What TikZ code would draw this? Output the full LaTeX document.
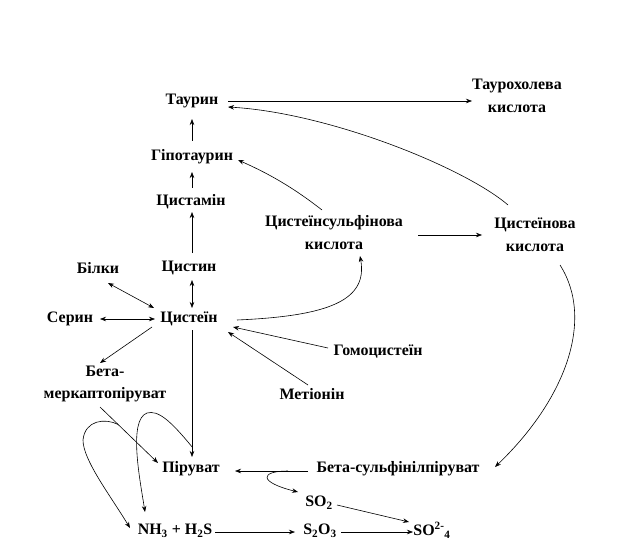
\documentclass[tikz,border=0pt]{standalone}
\usepackage{fontspec}
\setmainfont{Liberation Serif}
\usetikzlibrary{arrows.meta,calc}
\begin{document}
\begin{tikzpicture}[x=1bp,y=-1bp,
  lbl/.style={font=\fontsize{16}{23}\selectfont\bfseries, inner sep=0pt, align=center},
  con/.style={line width=0.6bp,-{Stealth[length=6bp,width=4.5bp]}},
  dcon/.style={line width=0.6bp,{Stealth[length=6bp,width=4.5bp]}-{Stealth[length=6bp,width=4.5bp]}},
  ln/.style={line width=0.6bp}]
\useasboundingbox (0,0) rectangle (636,548);
\fill[white] (0,0) rectangle (636,548);
% nodes
\node[lbl] (taur) at (192,101) {Таурин};
\node[lbl] (tchol) at (517,96) {Таурохолева\\кислота};
\node[lbl] (hypo) at (192,157) {Гіпотаурин};
\node[lbl] (cystam) at (191,202) {Цистамін};
\node[lbl] (csa) at (334,233) {Цистеїнсульфінова\\кислота};
\node[lbl] (ca) at (535,235) {Цистеїнова\\кислота};
\node[lbl] (bilky) at (98,268) {Білки};
\node[lbl] (cystin) at (189,268) {Цистин};
\node[lbl] (serin) at (70,319) {Серин};
\node[lbl] (cys) at (189,319) {Цистеїн};
\node[lbl] (homo) at (378,352) {Гомоцистеїн};
\node[lbl] (bmp) at (105,384) {Бета-\\меркаптопіруват};
\node[lbl] (met) at (312,394) {Метіонін};
\node[lbl] (pyr) at (191,469) {Піруват};
\node[lbl] (bsp) at (398,469) {Бета-сульфінілпіруват};
\node[lbl] (so2) at (319,503) {SO\textsubscript{2}};
\node[lbl] (nh3) at (175,531) {NH\textsubscript{3} + H\textsubscript{2}S};
\node[lbl] (s2o3) at (320,531) {S\textsubscript{2}O\textsubscript{3}};
\node[lbl] (so4) at (432,530) {SO\textsuperscript{2-}\textsubscript{4}};
% connectors
\draw[con] ($(taur)+(36,0)$) -- ($(tchol)+(-45,5)$);
\draw[con] ($(ca)+(-27,-30)$) .. controls (465,168) and (330,113) .. ($(taur)+(36,6)$);
\draw[con] ($(csa)+(-12,-23)$) .. controls (290,185) and (265,172) .. ($(hypo)+(46,3)$);
\draw[con] ($(hypo)+(0,-16)$) -- ($(taur)+(0,18)$);
\draw[con] ($(cystam)+(1,-14)$) -- ($(hypo)+(0,15)$);
\draw[con] ($(cystin)+(3,-15)$) -- ($(cystam)+(1,10)$);
\draw[dcon] ($(cystin)+(3,12)$) -- ($(cys)+(3,-11)$);
\draw[dcon] ($(bilky)+(10,15)$) -- ($(cys)+(-35,-11)$);
\draw[dcon] ($(serin)+(30,0)$) -- ($(cys)+(-34,0)$);
\draw[con] ($(cys)+(-37,8)$) -- ($(bmp)+(-5,-21)$);
\draw[con] ($(cys)+(3,11)$) -- coordinate[pos=0.92] (l2) ($(pyr)+(1,-12)$);
\draw[con] ($(homo)+(-50,-4)$) -- ($(cys)+(44,8)$);
\draw[con] ($(met)+(-4,-9)$) -- ($(cys)+(39,13)$);
\draw[con] ($(cys)+(48,1)$) .. controls (330,316) and (368,300) .. ($(csa)+(26,23)$);
\draw[con] ($(csa)+(84,2)$) -- ($(ca)+(-53,0)$);
\draw[con] ($(ca)+(25,30)$) .. controls (595,320) and (565,400) .. ($(bsp)+(97,-2)$);
\draw[con] ($(bsp)+(-90,2)$) -- coordinate[pos=0.274] (br) ($(pyr)+(44,2)$);
\draw[con] (br) .. controls (260,471) and (258,482) .. ($(so2)+(-21,-11)$);
\draw[con] ($(so2)+(18,2)$) -- ($(so4)+(-23,-8)$);
\draw[con] ($(nh3)+(40,1)$) -- ($(s2o3)+(-25,1)$);
\draw[con] ($(s2o3)+(21,1)$) -- ($(so4)+(-19,2)$);
\draw[con] ($(bmp)+(-5,23)$) -- coordinate[pos=0.31] (l1) ($(pyr)+(-33,-6)$);
\draw[con] (l1) .. controls (105,418) and (85,420) .. (83,440) .. controls (83,460) and (110,495) .. ($(nh3)+(-45,-3)$);
\draw[con] (l2) .. controls (170,420) and (158,410) .. (147,413) .. controls (128,420) and (140,480) .. ($(nh3)+(-30,-19)$);
\end{tikzpicture}
\end{document}
